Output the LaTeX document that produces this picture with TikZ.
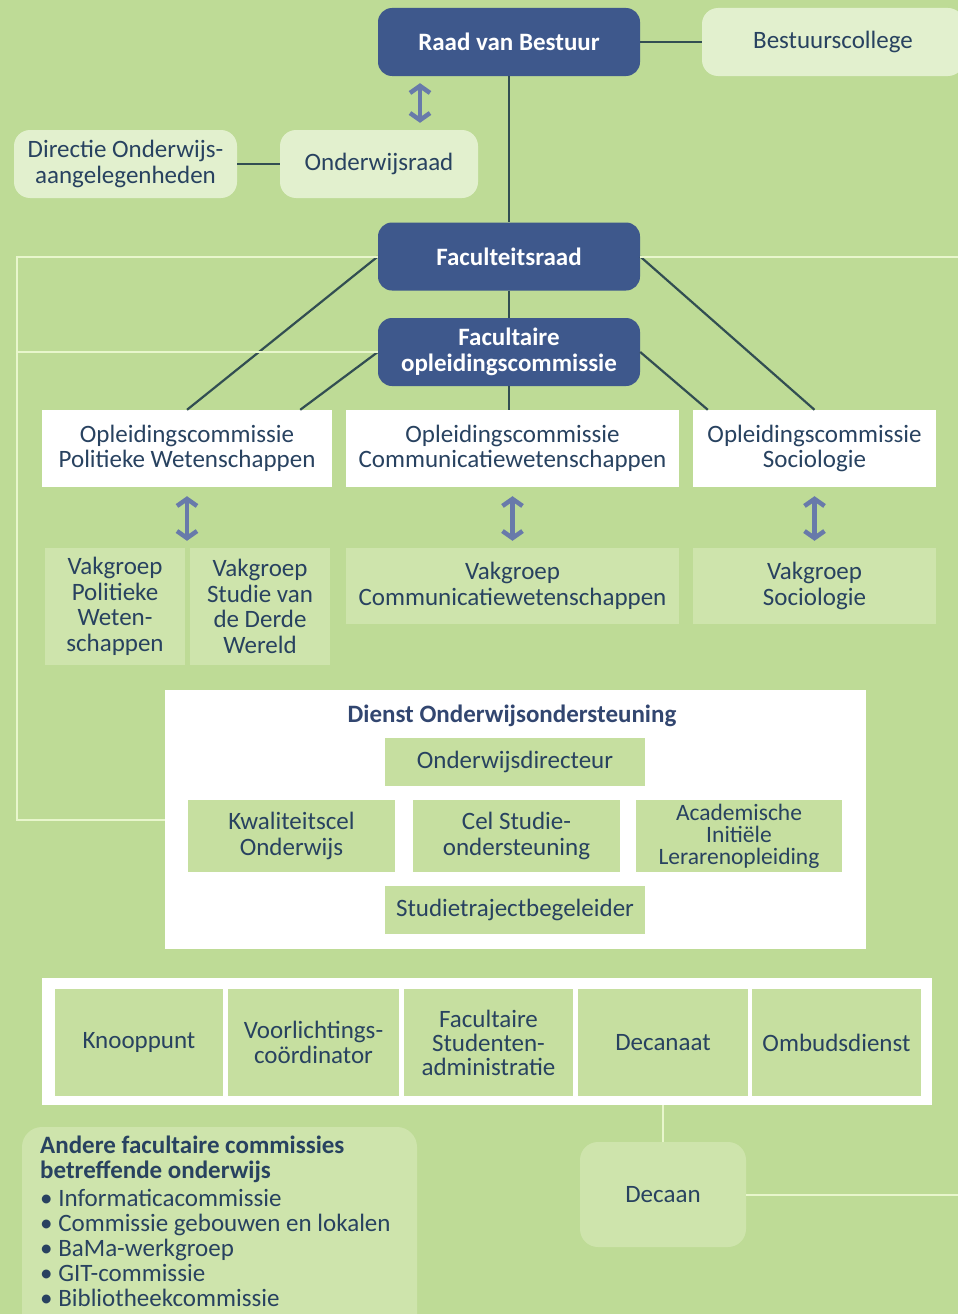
\documentclass[tikz,border=0pt]{standalone}
\usepackage{fontspec}
\setmainfont{Carlito}
\usetikzlibrary{arrows.meta,calc}
\definecolor{bg}{RGB}{190,219,150}
\definecolor{navy}{RGB}{62,88,140}
\definecolor{pale}{RGB}{226,240,206}
\definecolor{ink}{RGB}{40,66,96}
\definecolor{vakfill}{RGB}{206,228,172}
\definecolor{cellfill}{RGB}{198,223,160}
\definecolor{linec}{RGB}{50,78,82}
\definecolor{framec}{RGB}{232,246,204}
\definecolor{arrowc}{RGB}{104,122,170}
\newcommand\bodyfs{\fontsize{25}{25.5}\selectfont}
\begin{document}
\begin{tikzpicture}[x=1pt,y=-1pt,
  every node/.style={inner sep=0pt, align=center, text=ink, font=\bodyfs},
  navybox/.style={fill=navy, rounded corners=14pt, text=white, font=\bodyfs\bfseries,
    minimum width=262pt, minimum height=68pt},
  palebox/.style={fill=pale, rounded corners=16pt, minimum height=68pt},
  wbox/.style={fill=white, minimum height=77pt},
  vakbox/.style={fill=vakfill},
  cellbox/.style={fill=cellfill},
  link/.style={draw=linec, line width=2.2pt},
  frameline/.style={draw=framec, line width=2pt},
  dbl/.style={draw=arrowc, line width=4.5pt,
    {Straight Barb[length=7pt,width=20pt]}-{Straight Barb[length=7pt,width=20pt]}}]
\useasboundingbox[fill=bg] (0,0) rectangle (958,1314);

% governing bodies
\node[navybox] (raad) at (509,42) {Raad van Bestuur};
\node[palebox, minimum width=262pt] (bc) at (833,42) {Bestuurscollege};
\node[palebox, minimum width=198pt] (owr) at (379,164) {Onderwijsraad};
\node[palebox, minimum width=223pt] (doa) at (125.5,164) {Directie Onderwijs-\\aangelegenheden};
\node[navybox] (fr) at (509,256.5) {Faculteitsraad};
\node[navybox] (foc) at (509,352) {Facultaire\\opleidingscommissie};

% programme committees
\node[wbox, minimum width=290pt] (opw) at (187,448.5) {Opleidingscommissie\\Politieke Wetenschappen};
\node[wbox, minimum width=333pt] (ocw) at (512.5,448.5) {Opleidingscommissie\\Communicatiewetenschappen};
\node[wbox, minimum width=243pt] (osoc) at (814.5,448.5) {Opleidingscommissie\\Sociologie};

% departments
\node[vakbox, minimum width=140pt, minimum height=117pt] (vpw) at (115,606.5) {Vakgroep\\Politieke\\Weten-\\schappen};
\node[vakbox, minimum width=140pt, minimum height=117pt] (vsdw) at (260,606.5) {Vakgroep\\Studie van\\de Derde\\Wereld};
\node[vakbox, minimum width=333pt, minimum height=76pt] (vcw) at (512.5,586) {Vakgroep\\Communicatiewetenschappen};
\node[vakbox, minimum width=243pt, minimum height=76pt] (vsoc) at (814.5,586) {Vakgroep\\Sociologie};

% education support service
\node[fill=white, minimum width=701pt, minimum height=259pt] (dos) at (515.5,819.5) {};
\node[font=\bodyfs\bfseries, text=navy!80!black] (dostitle) at (512,716) {Dienst Onderwijsondersteuning};
\node[cellbox, minimum width=260pt, minimum height=48pt] (odir) at (515,762) {Onderwijsdirecteur};
\node[cellbox, minimum width=207pt, minimum height=72pt] (kwal) at (291.5,836) {Kwaliteitscel\\Onderwijs};
\node[cellbox, minimum width=207pt, minimum height=72pt] (cel) at (516.5,836) {Cel Studie-\\ondersteuning};
\node[cellbox, minimum width=206pt, minimum height=72pt, font=\fontsize{23.5}{22}\selectfont] (aca) at (739,836) {Academische\\Initiële\\Lerarenopleiding};
\node[cellbox, minimum width=260pt, minimum height=48pt] (stb) at (515,910) {Studietrajectbegeleider};

% faculty services band
\node[fill=white, minimum width=890pt, minimum height=127pt] (band) at (487,1041.5) {};
\node[cellbox, minimum width=168pt, minimum height=107pt] (knp) at (139,1042.5) {Knooppunt};
\node[cellbox, minimum width=171pt, minimum height=107pt] (vlc) at (313.5,1042.5) {Voorlichtings-\\coördinator};
\node[cellbox, minimum width=169pt, minimum height=107pt, font=\fontsize{25}{24}\selectfont] (fsa) at (488.5,1042.5) {Facultaire\\Studenten-\\administratie};
\node[cellbox, minimum width=170pt, minimum height=107pt] (dec) at (663,1042.5) {Decanaat};
\node[cellbox, minimum width=169pt, minimum height=107pt] (omb) at (836.5,1042.5) {Ombudsdienst};

% other committees
\fill[vakfill, rounded corners=20pt] (22,1127) rectangle (417,1345);
\node[anchor=north west, align=left, font=\fontsize{25}{25}\selectfont] (andere) at (40,1136)
  {\textbf{Andere facultaire commissies}\\
   \textbf{betreffende onderwijs}\\[3pt]
   • Informaticacommissie\\
   • Commissie gebouwen en lokalen\\
   • BaMa-werkgroep\\
   • GIT-commissie\\
   • Bibliotheekcommissie};

\node[fill=vakfill, rounded corners=18pt, minimum width=166pt, minimum height=105pt] (decaan) at (663,1194.5) {Decaan};

% connectors
\draw[link] (raad) -- (bc);
\draw[link] (doa) -- (owr);
\draw[link] (raad) -- (fr);
\draw[link] (fr) -- (foc);
\draw[link] (foc.south) -- (foc.south |- ocw.north);
\draw[link] (fr.west) -- (opw.north);
\draw[link] (foc.west) -- ($(opw.north east)+(-32,0)$);
\draw[link] (fr.east) -- (osoc.north);
\draw[link] (foc.east) -- ($(osoc.north west)+(15,0)$);

% two-way arrows
\draw[dbl, shorten <=7pt, shorten >=7pt] ([xshift=-89pt]raad.south) -- ([xshift=-89pt]raad.south |- owr.north);
\draw[dbl, shorten <=9pt, shorten >=7pt] (opw.south) -- (opw.south |- vpw.north);
\draw[dbl, shorten <=9pt, shorten >=7pt] (ocw.south) -- (ocw.south |- vcw.north);
\draw[dbl, shorten <=9pt, shorten >=7pt] (osoc.south) -- (osoc.south |- vsoc.north);

% pale frame lines
\coordinate (ftop) at (17,256.5);
\coordinate (fbot) at (17,819.5);
\coordinate (rightA) at (958,256.5);
\coordinate (rightB) at (958,1194.5);
\draw[frameline] (fr.west) -- (ftop) -- (fbot) -- (dos.west);
\draw[frameline] (foc.west) -- (foc.west -| ftop);
\draw[frameline] (fr.east) -- (rightA);
\draw[frameline] (band.south -| decaan.north) -- (decaan.north);
\draw[frameline] (decaan.east) -- (rightB);
\end{tikzpicture}
\end{document}
